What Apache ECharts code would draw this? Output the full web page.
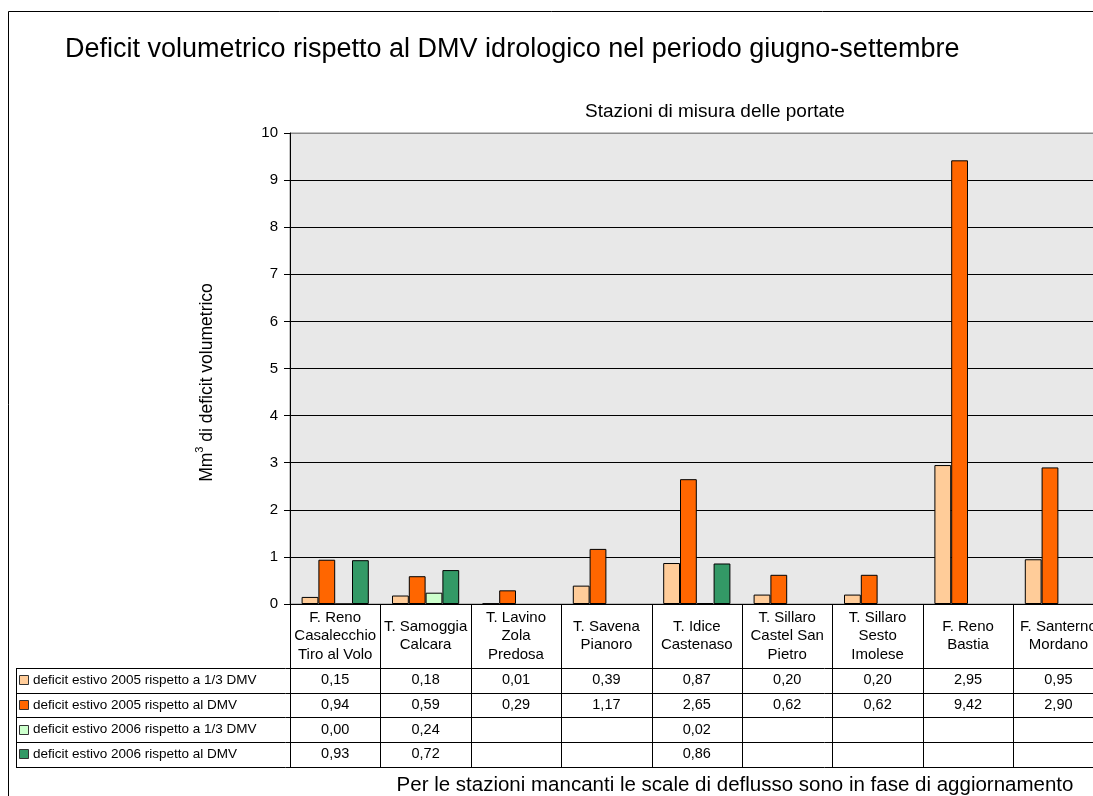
<!DOCTYPE html>
<html>
<head>
<meta charset="utf-8">
<script src="https://cdn.jsdelivr.net/npm/echarts@6/dist/echarts.min.js"></script>
<style>
  html, body { margin: 0; padding: 0; background: #ffffff; }
  #chart { width: 1093px; height: 796px; }
</style>
</head>
<body>
<div id="chart"></div>
<script>
// Stazioni di misura (etichette di categoria)
const stations = [
  'F. Reno\nCasalecchio\nTiro al Volo',
  'T. Samoggia\nCalcara',
  'T. Lavino\nZola\nPredosa',
  'T. Savena\nPianoro',
  'T. Idice\nCastenaso',
  'T. Sillaro\nCastel San\nPietro',
  'T. Sillaro\nSesto\nImolese',
  'F. Reno\nBastia',
  'F. Santerno\nMordano'
];

// Nomi delle serie
const seriesNames = [
  'deficit estivo 2005 rispetto a 1/3 DMV',
  'deficit estivo 2005 rispetto al DMV',
  'deficit estivo 2006 rispetto a 1/3 DMV',
  'deficit estivo 2006 rispetto al DMV'
];

// Deficit volumetrico (Mm3); null = stazione senza dato
const deficit2005Terzo = [0.15, 0.18, 0.01, 0.39, 0.87, 0.20, 0.20, 2.95, 0.95];
const deficit2005Dmv   = [0.94, 0.59, 0.29, 1.17, 2.65, 0.62, 0.62, 9.42, 2.90];
const deficit2006Terzo = [0.00, 0.24, null, null, 0.02, null, null, null, null];
const deficit2006Dmv   = [0.93, 0.72, null, null, 0.86, null, null, null, null];

const seriesColors = ['#FFCC99', '#FF6600', '#CCFFCC', '#339966'];

const FONT = '"Liberation Sans", Arial, sans-serif';
const allSeries = [deficit2005Terzo, deficit2005Dmv, deficit2006Terzo, deficit2006Dmv];

// linee di griglia nere, bordo superiore dell'area grigio
const splitColors = ['#000', '#000', '#000', '#000', '#000', '#000', '#000', '#000', '#000', '#000', '#8A8A8A'];

const chart = echarts.init(document.getElementById('chart'), null, { renderer: 'canvas' });

chart.setOption({
  animation: false,
  backgroundColor: '#ffffff',
  textStyle: { fontFamily: FONT, color: '#000' },
  grid: {
    left: 290, top: 133, width: 813.6, height: 471,
    show: true, backgroundColor: '#E8E8E8', borderColor: '#8A8A8A', borderWidth: 1,
    containLabel: false, outerBoundsMode: 'none'
  },
  xAxis: {
    type: 'category',
    data: stations,
    boundaryGap: true,
    axisLine: { show: true, lineStyle: { color: '#000', width: 1 } },
    axisTick: { show: false },
    axisLabel: {
      interval: 0, margin: 32, verticalAlign: 'middle', align: 'center',
      fontSize: 15, lineHeight: 18.5, color: '#000', fontFamily: FONT
    },
    splitLine: { show: false }
  },
  yAxis: {
    type: 'value',
    min: 0, max: 10, interval: 1,
    axisLine: { show: true, lineStyle: { color: '#000', width: 1 } },
    axisTick: { show: true, inside: false, length: 6, lineStyle: { color: '#000' } },
    axisLabel: { fontSize: 15, color: '#000', margin: 12, fontFamily: FONT },
    splitLine: { show: true, lineStyle: { color: splitColors, width: 1 } }
  },
  series: allSeries.map((vals, i) => ({
    name: seriesNames[i],
    type: 'bar',
    data: vals,
    barWidth: 16.8,
    barGap: '0%',
    itemStyle: { color: seriesColors[i], borderColor: '#000', borderWidth: 1 },
    emphasis: { disabled: true }
  }))
});

// Tabella dati sotto il grafico, allineata alle categorie dell'asse
const c0 = chart.convertToPixel({ xAxisIndex: 0 }, 0);
const c1 = chart.convertToPixel({ xAxisIndex: 0 }, 1);
const band = c1 - c0;
const plotLeft = c0 - band / 2;
const yZero = chart.convertToPixel({ yAxisIndex: 0 }, 0);

const labelRowH = 64;
const rowH = 24.7;
const tableLeft = 16;
const tableRight = 1300;
const tableTop = yZero + labelRowH;
const tableBottom = tableTop + rowH * seriesNames.length;
const crisp = v => Math.round(v) + 0.5;
const fmt = v => (v === null || v === undefined) ? '' : v.toFixed(2).replace('.', ',');

const g = [];
const lineStyle = { stroke: '#000', lineWidth: 1 };

// cornice esterna
g.push({ type: 'rect', shape: { x: 8.5, y: 11.5, width: 1400, height: 1000 }, style: { fill: 'none', stroke: '#000', lineWidth: 1 }, z: 10 });

// titolo, sottotitolo e nota
g.push({ type: 'text', x: 65, y: 50, style: { text: 'Deficit volumetrico rispetto al DMV idrologico nel periodo giugno-settembre', font: '27px ' + FONT, fill: '#000', align: 'left', verticalAlign: 'middle' }, z: 10 });
g.push({ type: 'text', x: 715, y: 112, style: { text: 'Stazioni di misura delle portate', font: '19px ' + FONT, fill: '#000', align: 'center', verticalAlign: 'middle' }, z: 10 });
g.push({ type: 'text', x: 735, y: 785, style: { text: 'Per le stazioni mancanti le scale di deflusso sono in fase di aggiornamento', font: '20.5px ' + FONT, fill: '#000', align: 'center', verticalAlign: 'middle' }, z: 10 });

// titolo dell'asse verticale, con esponente
g.push({
  type: 'text', x: 205, y: 382.5, rotation: Math.PI / 2,
  style: {
    text: '{b|Mm}{s|3}{b| di deficit volumetrico}',
    align: 'center', verticalAlign: 'middle', fill: '#000',
    rich: {
      b: { fontSize: 17.5, fontFamily: FONT, lineHeight: 22, verticalAlign: 'bottom' },
      s: { fontSize: 11, fontFamily: FONT, lineHeight: 22, verticalAlign: 'top', padding: [0, 0, 6, 0] }
    }
  },
  z: 10
});

// righe orizzontali
for (let r = 0; r <= seriesNames.length; r++) {
  const y = crisp(tableTop + r * rowH);
  g.push({ type: 'line', shape: { x1: tableLeft, y1: y, x2: tableRight, y2: y }, style: lineStyle, z: 10 });
}
// linea sinistra della legenda
g.push({ type: 'line', shape: { x1: crisp(tableLeft), y1: crisp(tableTop), x2: crisp(tableLeft), y2: crisp(tableBottom) }, style: lineStyle, z: 10 });
// separatori di colonna
for (let k = 0; k <= stations.length; k++) {
  const x = crisp(plotLeft + k * band);
  g.push({ type: 'line', shape: { x1: x, y1: crisp(yZero), x2: x, y2: crisp(tableBottom) }, style: lineStyle, z: 10 });
}
// chiavi di legenda, nomi serie e valori
seriesNames.forEach((name, r) => {
  const yMid = tableTop + r * rowH + rowH / 2;
  g.push({ type: 'rect', shape: { x: 19.5, y: Math.round(yMid - 5) + 0.5, width: 9, height: 9 }, style: { fill: seriesColors[r], stroke: '#333', lineWidth: 1 }, z: 10 });
  g.push({ type: 'text', x: 33, y: yMid, style: { text: name, font: '13.5px ' + FONT, fill: '#000', align: 'left', verticalAlign: 'middle' }, z: 10 });
  allSeries[r].forEach((v, k) => {
    const cx = chart.convertToPixel({ xAxisIndex: 0 }, k);
    g.push({ type: 'text', x: cx, y: yMid, style: { text: fmt(v), font: '14.5px ' + FONT, fill: '#000', align: 'center', verticalAlign: 'middle' }, z: 10 });
  });
});

chart.setOption({ graphic: { elements: g } });
</script>
</body>
</html>
